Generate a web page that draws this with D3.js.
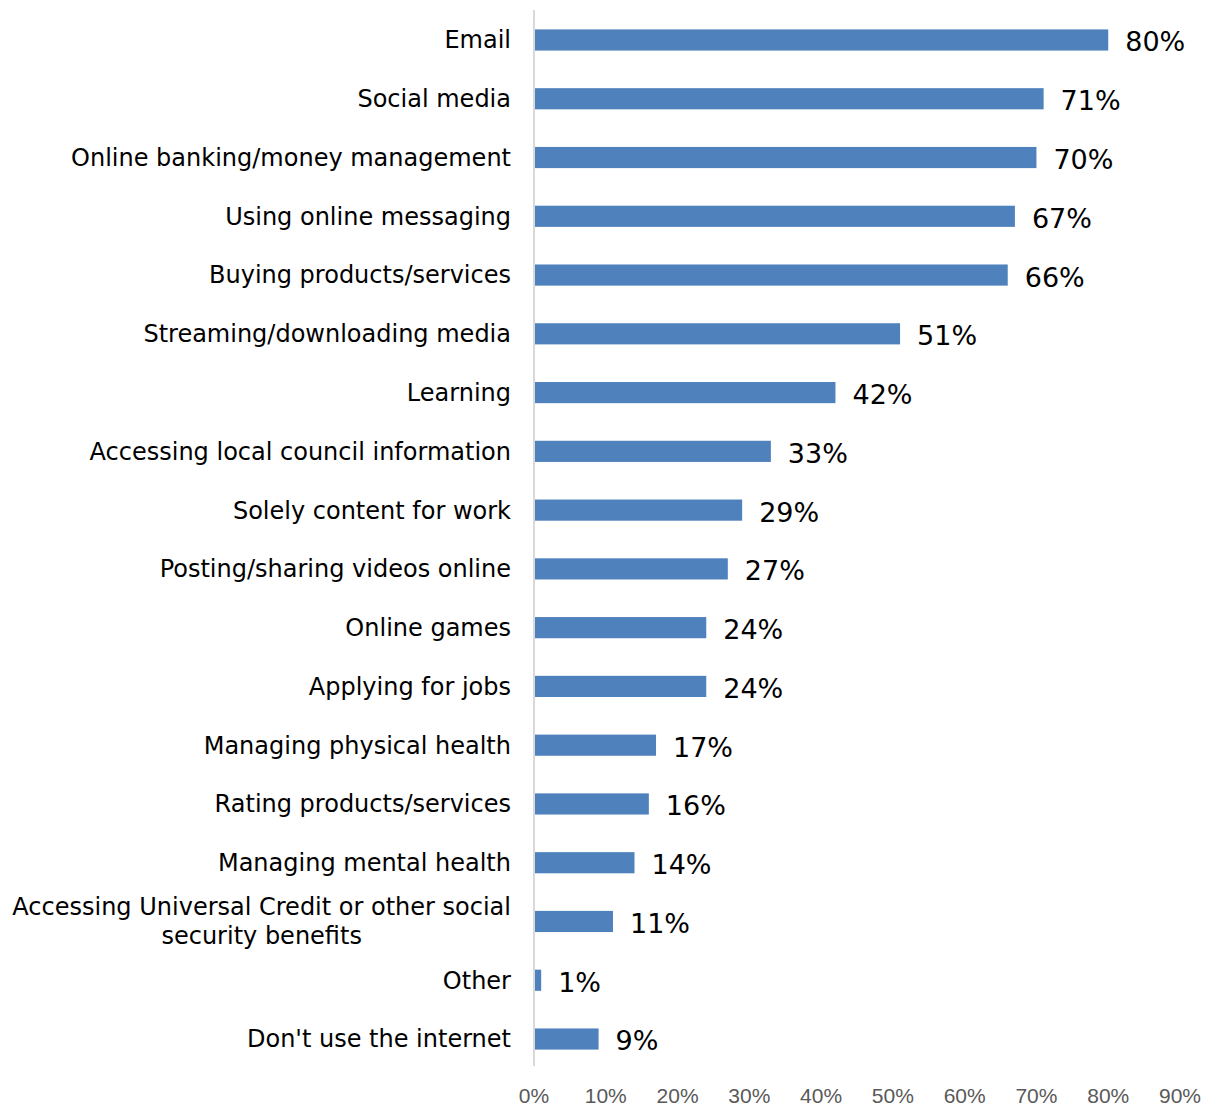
<!DOCTYPE html>
<html>
<head>
<meta charset="utf-8">
<script src="https://cdn.jsdelivr.net/npm/d3@7"></script>
<style>
  html, body { margin: 0; padding: 0; background: #fff; }
  svg { display: block; }
</style>
</head>
<body>
<svg id="chart" width="1212" height="1108"></svg>
<script>
// Share of respondents using the internet for each activity
const categories = [
  "Email",
  "Social media",
  "Online banking/money management",
  "Using online messaging",
  "Buying products/services",
  "Streaming/downloading media",
  "Learning",
  "Accessing local council information",
  "Solely content for work",
  "Posting/sharing videos online",
  "Online games",
  "Applying for jobs",
  "Managing physical health",
  "Rating products/services",
  "Managing mental health",
  "Accessing Universal Credit or other social\nsecurity benefits",
  "Other",
  "Don't use the internet"
];
const values = [80, 71, 70, 67, 66, 51, 42, 33, 29, 27, 24, 24, 17, 16, 14, 11, 1, 9];
const tickValues = [0, 10, 20, 30, 40, 50, 60, 70, 80, 90];
const tickLabels = ["0%", "10%", "20%", "30%", "40%", "50%", "60%", "70%", "80%", "90%"];

const svg = d3.select("#chart");
const plotLeft = 534, plotRight = 1180;
const plotTop = 10.6, plotBottom = 1068.4;

const x = d3.scaleLinear().domain([0, 90]).range([plotLeft, plotRight]);
const y = d3.scaleBand()
  .domain(categories)
  .range([plotTop, plotBottom])
  .paddingInner(0.64)
  .paddingOuter(0.32);

const data = categories.map((c, i) => ({ cat: c, val: values[i] }));

// bars
svg.append("g").selectAll("rect")
  .data(data)
  .join("rect")
  .attr("x", x(0))
  .attr("y", d => y(d.cat))
  .attr("width", d => x(d.val) - x(0))
  .attr("height", y.bandwidth())
  .attr("fill", "#4F81BD");

// vertical category axis line
svg.append("line")
  .attr("x1", x(0)).attr("x2", x(0))
  .attr("y1", 10).attr("y2", 1066)
  .attr("stroke", "#D9D9D9")
  .attr("stroke-width", 2);

const labelFont = "DejaVu Sans, Verdana, sans-serif";
const labelSize = 24;

// category labels (right aligned, multi-line blocks centred on their widest line)
const catG = svg.append("g");
data.forEach(d => {
  const lines = d.cat.split("\n");
  const cy = y(d.cat) + y.bandwidth() / 2;
  const lineH = 29;
  const t = catG.append("text")
    .attr("font-family", labelFont)
    .attr("font-size", labelSize)
    .attr("fill", "#000");
  if (lines.length === 1) {
    t.attr("x", 511).attr("y", cy).attr("dy", "0.35em")
      .attr("text-anchor", "end").text(lines[0]);
  } else {
    const widths = lines.map(l => {
      const m = catG.append("text").attr("font-family", labelFont)
        .attr("font-size", labelSize).text(l);
      const w = m.node().getComputedTextLength();
      m.remove();
      return w;
    });
    const cx = 511 - d3.max(widths) / 2;
    t.attr("text-anchor", "middle");
    lines.forEach((l, i) => {
      t.append("tspan")
        .attr("x", cx)
        .attr("y", cy + (i - (lines.length - 1) / 2) * lineH)
        .attr("dy", "0.35em")
        .text(l);
    });
  }
});

// value labels
svg.append("g").selectAll("text")
  .data(data)
  .join("text")
  .attr("x", d => x(d.val) + 17)
  .attr("y", d => y(d.cat) + y.bandwidth() / 2 + 2)
  .attr("dy", "0.35em")
  .attr("font-family", labelFont)
  .attr("font-size", 27)
  .attr("fill", "#000")
  .text(d => d.val + "%");

// x-axis tick labels (grey)
svg.append("g").selectAll("text")
  .data(tickValues)
  .join("text")
  .attr("x", d => x(d))
  .attr("y", 1103)
  .attr("text-anchor", "middle")
  .attr("font-family", "Liberation Sans, Arial, sans-serif")
  .attr("font-size", 21)
  .attr("fill", "#595959")
  .text((d, i) => tickLabels[i]);
</script>
</body>
</html>
